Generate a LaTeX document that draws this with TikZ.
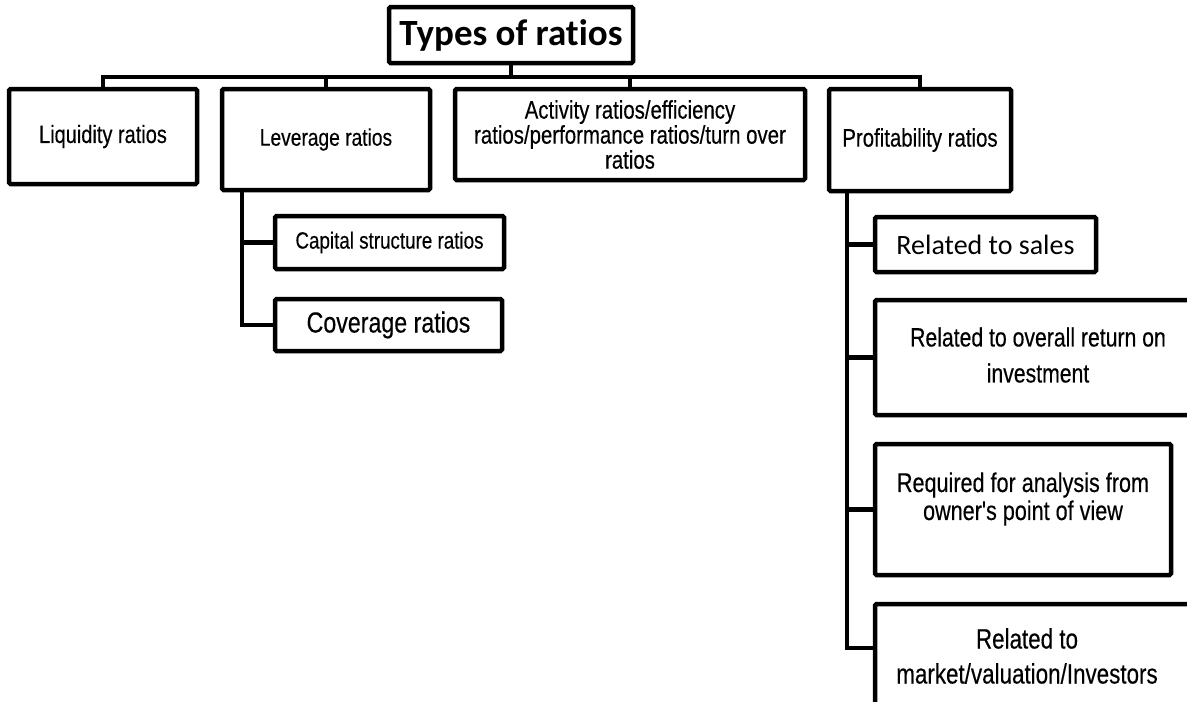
\documentclass[tikz,border=0pt]{standalone}
\usepackage{fontspec}
\setmainfont[Ligatures=NoCommon]{Carlito}
\newfontfamily\cond[FakeStretch=0.8,FakeBold=0.3]{Liberation Sans}
\newcommand{\cf}[2]{\cond\fontsize{#1}{#2}\selectfont}
\begin{document}
\begin{tikzpicture}[x=1pt,y=-1pt,
  box/.style={draw=black,line width=4.5pt,rounded corners=1.5pt,fill=white,
    inner sep=0pt,align=center},
  lbl/.style={align=center,inner sep=0pt},
  conn/.style={draw=black,line width=4.5pt}]
\useasboundingbox (0,0) rectangle (1187,702);
\clip (0,0) rectangle (1187,702);

% joints of the connector trunks
\coordinate (bus) at (0,77);
\coordinate (levstem) at (242,0);
\coordinate (profstem) at (847,0);

% top level
\node[box,minimum width=244pt,minimum height=56pt,
  font=\bfseries\fontsize{37}{44}\selectfont] (title) at (511,35) {Types of ratios};

\node[box,minimum width=188pt,minimum height=95pt,font=\cf{25}{30}] (liq) at (103,136.5) {Liquidity ratios};
\node[box,minimum width=208pt,minimum height=101pt,font=\cf{24}{30}] (lev) at (326,139.5) {Leverage ratios};
\node[box,minimum width=350pt,minimum height=91pt,font=\cf{25.5}{25}] (act) at (630,134.5)
  {Activity ratios/efficiency\\ratios/performance ratios/turn over\\ratios};
\node[box,minimum width=182pt,minimum height=102pt,font=\cf{25.5}{30}] (prof) at (920,140) {Profitability ratios};

% leverage sub-types
\node[box,minimum width=229pt,minimum height=53pt,font=\cf{23.5}{28}] (cap) at (389.5,242.5) {Capital structure ratios};
\node[box,minimum width=227pt,minimum height=52pt,font=\cf{29}{34}] (cov) at (388.5,325) {Coverage ratios};

% profitability sub-types
\node[box,minimum width=221pt,minimum height=55pt,
  font=\fontsize{28}{32}\selectfont] (sales) at (985.5,244.5) {Related to sales};
\node[box,minimum width=318pt,minimum height=115pt] (overall) at (1034,357.5) {};
\node[lbl,font=\cf{26.5}{36}] (overallT) at (1038,355)
  {Related to overall return on\\investment};
\node[box,minimum width=296pt,minimum height=131pt] (req) at (1023,509.5) {};
\node[lbl,font=\cf{27}{28}] (reqT) at (1023,499)
  {Required for analysis from\\owner's point of view};
\node[box,minimum width=318pt,minimum height=109pt] (mkt) at (1034,658.5) {};
\node[lbl,font=\cf{28}{35}] (mktT) at (1027,656)
  {Related to\\market/valuation/Investors};

% top bus
\draw[conn] (title.south) -- (title.south |- bus);
\draw[conn] (liq.north) -- (liq.north |- bus) -- (prof.north |- bus) -- (prof.north);
\draw[conn] (lev.north) -- (lev.north |- bus);
\draw[conn] (act.north) -- (act.north |- bus);

% leverage branch
\draw[conn] (lev.south -| levstem) |- (cov.west);
\draw[conn] (levstem |- cap.west) -- (cap.west);

% profitability branch
\draw[conn] (prof.south -| profstem) |- ([yshift=10.5pt]mkt.west);
\draw[conn] (profstem |- sales.west) -- (sales.west);
\draw[conn] (profstem |- overall.west) -- (overall.west);
\draw[conn] (profstem |- req.west) -- (req.west);
\end{tikzpicture}
\end{document}
